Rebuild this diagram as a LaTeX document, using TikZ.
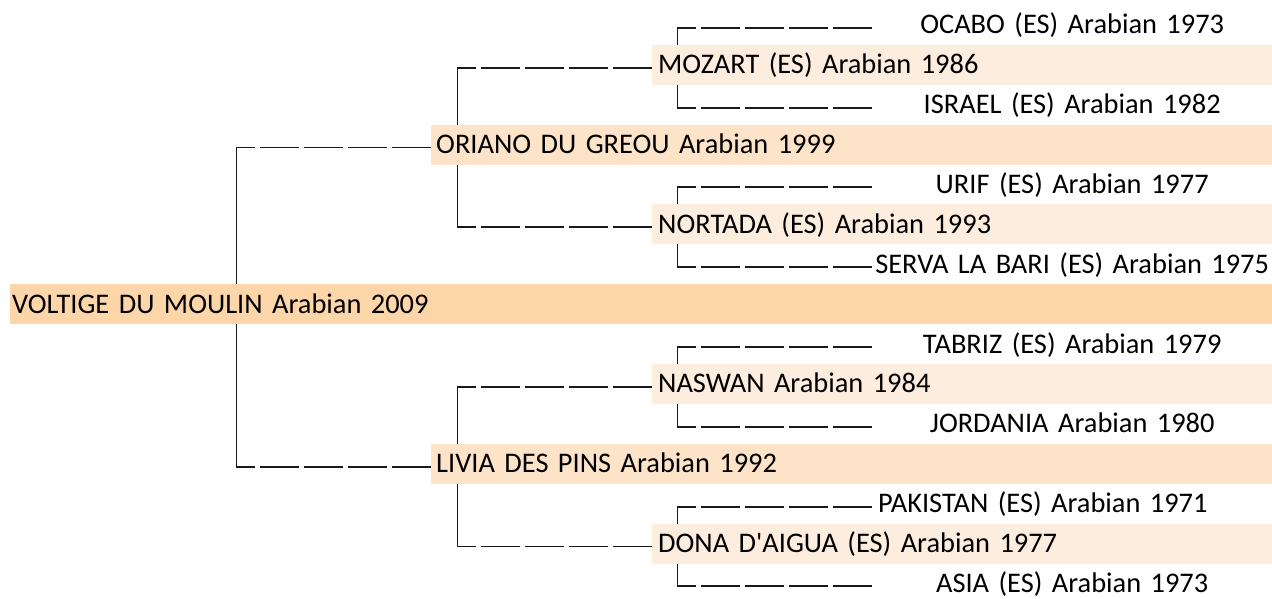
\documentclass[tikz,border=0pt]{standalone}
\usepackage{fontspec}
\setmainfont{Carlito}
\usetikzlibrary{backgrounds}
\definecolor{foalband}{RGB}{252,213,168}
\definecolor{parentband}{RGB}{253,228,200}
\definecolor{grandband}{RGB}{253,237,223}
\begin{document}
\begin{tikzpicture}[x=1pt, y=-1pt,
    horse/.style={anchor=west, minimum height=40pt, inner ysep=0pt,
      text height=24pt, text depth=6pt, align=left,
      font=\fontsize{28.4}{34}\selectfont},
    foal/.style={horse, fill=foalband, inner xsep=2pt, text width=1258pt},
    parent/.style={horse, fill=parentband, inner xsep=5pt, text width=831pt},
    grand/.style={horse, fill=grandband, inner xsep=6pt, text width=608pt},
    great/.style={horse, inner xsep=0pt, text width=400pt, align=center},
    tie/.style={line width=1.9pt, black!90, dash pattern=on 39pt off 5pt},
    stem/.style={line width=1.9pt, black!90, line cap=rect}]
    \useasboundingbox (0,0) rectangle (1272,598);

    % Foal
    \node[foal] (voltige) at (10,304.1) {VOLTIGE DU MOULIN Arabian 2009};

    % Sire and dam
    \node[parent] (oriano) at (431,144.5) {ORIANO DU GREOU Arabian 1999};
    \node[parent] (livia) at (431,463.7) {LIVIA DES PINS Arabian 1992};

    % Grandparents
    \node[grand] (mozart) at (652,64.7) {MOZART (ES) Arabian 1986};
    \node[grand] (nortada) at (652,224.3) {NORTADA (ES) Arabian 1993};
    \node[grand] (naswan) at (652,383.9) {NASWAN Arabian 1984};
    \node[grand] (dona) at (652,543.5) {DONA D\textquotesingle AIGUA (ES) Arabian 1977};

    % Great-grandparents
    \node[great] (ocabo) at (872,24.8) {OCABO (ES) Arabian 1973};
    \node[great] (israel) at (872,104.6) {ISRAEL (ES) Arabian 1982};
    \node[great] (urif) at (872,184.4) {URIF (ES) Arabian 1977};
    \node[great] (serva) at (872,264.2) {SERVA LA BARI (ES) Arabian 1975};
    \node[great] (tabriz) at (872,344.0) {TABRIZ (ES) Arabian 1979};
    \node[great] (jordania) at (872,423.8) {JORDANIA Arabian 1980};
    \node[great, align=left, inner xsep=6pt, text width=388pt]
      (pakistan) at (872,503.6) {PAKISTAN (ES) Arabian 1971};
    \node[great] (asia) at (872,583.4) {ASIA (ES) Arabian 1973};

    % Forks, behind the bands
    \begin{scope}[on background layer]
      \fill[white] (0,0) rectangle (1272,598);
      \foreach \upper/\lower in {oriano/livia, mozart/nortada, naswan/dona,
        ocabo/israel, urif/serva, tabriz/jordania, pakistan/asia}
      {
        \draw[tie] ([yshift=-3pt]\upper.west) -- ([xshift=-194.5pt,yshift=-3pt]\upper.west);
        \draw[tie] ([yshift=-3pt]\lower.west) -- ([xshift=-194.5pt,yshift=-3pt]\lower.west);
        \draw[stem] ([xshift=-194.5pt,yshift=-3pt]\upper.west)
          -- ([xshift=-194.5pt,yshift=-3pt]\lower.west);
      }
    \end{scope}
  \end{tikzpicture}
\end{document}
